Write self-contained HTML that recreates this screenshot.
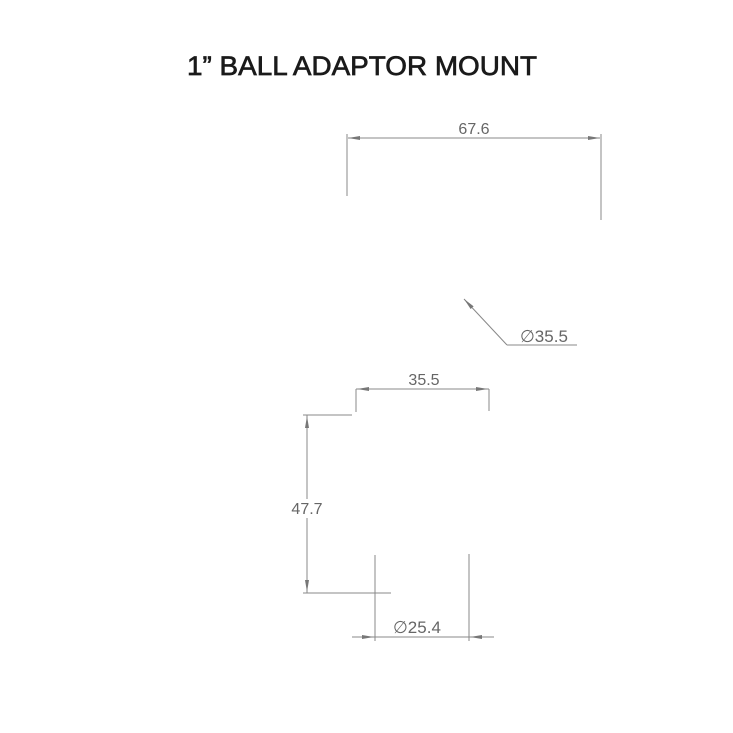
<!DOCTYPE html>
<html><head><meta charset="utf-8"><style>
html,body{margin:0;padding:0;background:#fff;}
svg{display:block;}
</style></head><body>
<svg width="733" height="733" viewBox="0 0 733 733" xmlns="http://www.w3.org/2000/svg">
<defs>
<marker id="a" viewBox="0 0 12 4" refX="12" refY="2" markerWidth="12" markerHeight="4" markerUnits="userSpaceOnUse" orient="auto"><path d="M0,0 L12,2 L0,4 z" fill="#777"/></marker>
</defs>
<text x="362" y="75" text-anchor="middle" font-family="Liberation Sans, sans-serif" font-size="27" fill="#1a1a1a" stroke="#1a1a1a" stroke-width="0.7" textLength="350" lengthAdjust="spacingAndGlyphs">1” BALL ADAPTOR MOUNT</text>
<g stroke="#888" stroke-width="1" fill="none">
<line x1="347" y1="134" x2="347" y2="196"/>
<line x1="601" y1="134" x2="601" y2="220"/>
<line x1="360" y1="138" x2="588" y2="138"/>
<line x1="360" y1="138" x2="348" y2="138" marker-end="url(#a)"/>
<line x1="588" y1="138" x2="600" y2="138" marker-end="url(#a)"/>
<line x1="507" y1="345" x2="577" y2="345"/>
<line x1="507" y1="345" x2="464" y2="299" marker-end="url(#a)"/>
<line x1="356" y1="389" x2="356" y2="412"/>
<line x1="489" y1="389" x2="489" y2="411"/>
<line x1="356" y1="389" x2="489" y2="389"/>
<line x1="370" y1="389" x2="357" y2="389" marker-end="url(#a)"/>
<line x1="475" y1="389" x2="488" y2="389" marker-end="url(#a)"/>
<line x1="303" y1="415" x2="352" y2="415"/>
<line x1="303" y1="593" x2="391" y2="593"/>
<line x1="307" y1="415" x2="307" y2="593"/>
<line x1="307" y1="430" x2="307" y2="416" marker-end="url(#a)"/>
<line x1="307" y1="578" x2="307" y2="592" marker-end="url(#a)"/>
<line x1="375" y1="555" x2="375" y2="641"/>
<line x1="469" y1="554" x2="469" y2="641"/>
<line x1="352" y1="637" x2="494" y2="637"/>
<line x1="362" y1="637" x2="374" y2="637" marker-end="url(#a)"/>
<line x1="482" y1="637" x2="470" y2="637" marker-end="url(#a)"/>
</g>
<g font-family="Liberation Sans, sans-serif" font-size="16" fill="#666">
<text x="474" y="134" text-anchor="middle">67.6</text>
<text x="424" y="385" text-anchor="middle">35.5</text>
<text x="307" y="514" text-anchor="middle" style="paint-order:stroke" stroke="#fff" stroke-width="8">47.7</text>
<text x="520" y="342" font-size="17">∅35.5</text>
<text x="393" y="633" font-size="17">∅25.4</text>
</g>
</svg>
</body></html>
